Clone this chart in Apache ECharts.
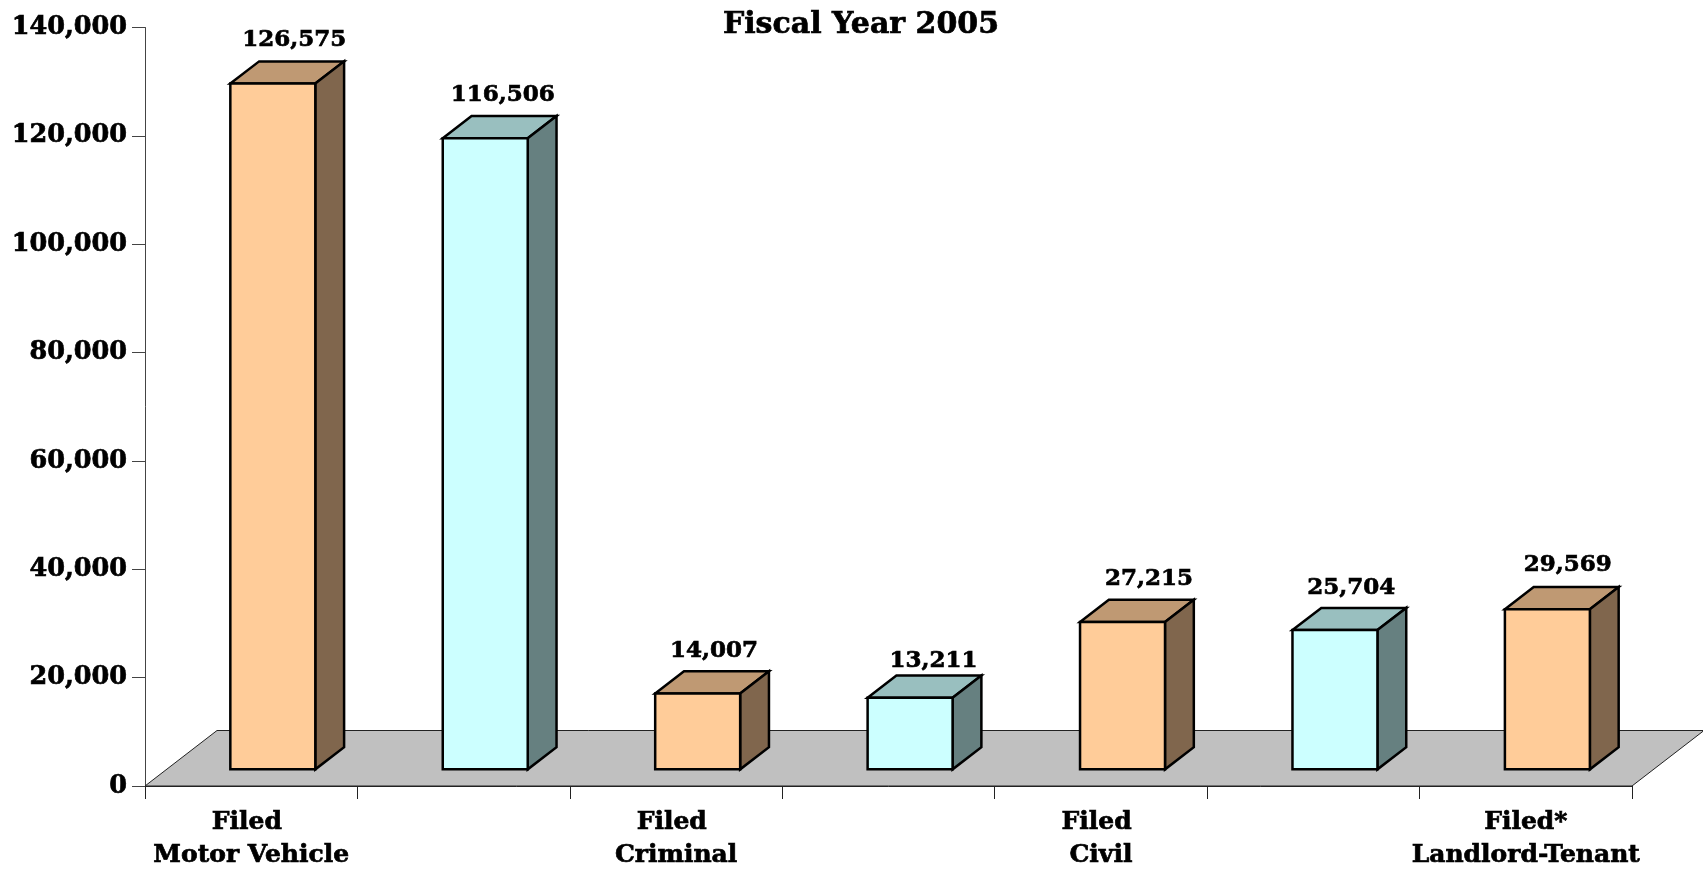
<!DOCTYPE html>
<html>
<head>
<meta charset="utf-8">
<style>html,body{margin:0;padding:0;background:#fff}#c{width:1703px;height:869px}</style>
<script src="https://cdn.jsdelivr.net/npm/echarts@6/dist/echarts.min.js"></script>
</head>
<body>
<div id="c"></div>
<script>
const chartTitle = "Fiscal Year 2005";
const categories = ["Filed \nMotor Vehicle", "", "Filed \nCriminal", "", "Filed \nCivil", "", "Filed*\nLandlord-Tenant"];
const values = [126575, 116506, 14007, 13211, 27215, 25704, 29569];
const front = ["#FFCC99", "#CCFFFF"];
const side = ["#80664D", "#668080"];
const top_ = ["#BF9973", "#99BFBF"];
const labelNudgeX = [43, 39, 38, 45, 48, 38, 42];
const labelNudgeY = [-21, -21, -20, -15, -21, -20, -22];
const FONT = '"DejaVu Serif"';
const chart = echarts.init(document.getElementById('c'), null, {renderer:'canvas'});
const depthX = 72, depthY = 55.5;
const stroke = {stroke:'#000', lineWidth:2.5, lineJoin:'miter'};
const heavy = {textBorderColor:'#000', textBorderWidth:0.7};
function fmt(v){return v.toLocaleString('en-US');}
chart.setOption({
  animation:false,
  backgroundColor:'#fff',
  title:{text:chartTitle,left:856,top:5,textAlign:'center',
    textStyle:{fontFamily:FONT,fontWeight:'bold',fontSize:30,color:'#000',...heavy}},
  grid:{left:145,right:71,top:27.5,bottom:83,containLabel:false,outerBoundsMode:'none'},
  xAxis:{type:'category',data:categories,boundaryGap:true,
    axisLine:{show:true,onZero:true,lineStyle:{color:'#222',width:1}},
    axisTick:{show:true,length:13,alignWithLabel:false,lineStyle:{color:'#222',width:1}},
    axisLabel:{interval:0,margin:20,fontFamily:FONT,fontWeight:'bold',fontSize:25,lineHeight:33,color:'#000',...heavy}},
  yAxis:{type:'value',min:0,max:140000,interval:20000,
    axisLine:{show:true,lineStyle:{color:'#444',width:1}},
    axisTick:{show:true,length:13,lineStyle:{color:'#444',width:1}},
    splitLine:{show:false},
    axisLabel:{margin:18,fontFamily:FONT,fontWeight:'bold',fontSize:25.5,color:'#000',...heavy,
      formatter:v=>fmt(v)}},
  series:[
    {type:'custom',z:1,silent:true,clip:false,data:[[0,0]],encode:{x:0,y:1},
     renderItem(params,api){
       const band=api.size([1,0])[0];
       const p=api.coord([0,0]);
       const l=p[0]-band/2, r=l+band*categories.length, y=p[1];
       return {type:'polygon',shape:{points:[[l,y],[r,y],[r+depthX,y-depthY],[l+depthX,y-depthY]]},
         style:{fill:'#C0C0C0',stroke:'#222',lineWidth:1}};
     }},
    {type:'custom',z:3,silent:true,clip:false,data:values.map((v,i)=>[i,v]),encode:{x:0,y:1},
     renderItem(params,api){
       const i=api.value(0), v=api.value(1);
       const band=api.size([1,0])[0];
       const t=api.coord([i,v]), b=api.coord([i,0]);
       const w=band*0.4, ox=depthX*0.3, oy=depthY*0.3, dx=depthX*0.4, dy=depthY*0.4;
       const x0=t[0]-w/2+ox, x1=x0+w, yt=t[1]-oy, yb=b[1]-oy;
       const c=i%2;
       return {type:'group',children:[
         {type:'polygon',shape:{points:[[x0,yt],[x0+dx,yt-dy],[x1+dx,yt-dy],[x1,yt]]},style:{fill:top_[c],...stroke}},
         {type:'polygon',shape:{points:[[x1,yt],[x1+dx,yt-dy],[x1+dx,yb-dy],[x1,yb]]},style:{fill:side[c],...stroke}},
         {type:'polygon',shape:{points:[[x0,yt],[x1,yt],[x1,yb],[x0,yb]]},style:{fill:front[c],...stroke}},
         {type:'text',style:{text:fmt(v),x:t[0]+labelNudgeX[i],y:yt-dy+labelNudgeY[i],align:'center',verticalAlign:'middle',
           font:'bold 23px '+FONT,fill:'#000',stroke:'#000',lineWidth:0.7}}
       ]};
     }}
  ]
});
</script>
</body>
</html>
